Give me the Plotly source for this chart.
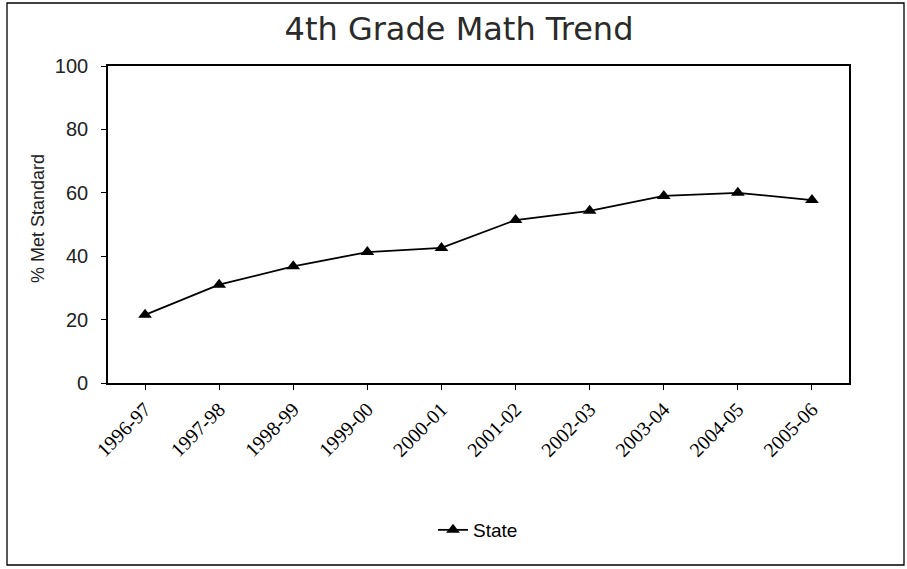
import plotly.graph_objects as go

# School years and the share of 4th graders meeting the math standard
years = ["1996-97", "1997-98", "1998-99", "1999-00", "2000-01",
         "2001-02", "2002-03", "2003-04", "2004-05", "2005-06"]
state_pct = [21.5, 31.0, 36.8, 41.3, 42.6, 51.4, 54.3, 59.0, 60.0, 57.7]
y_ticks = [0, 20, 40, 60, 80, 100]

W, H = 907, 569
L, R, T, B = 108, 58, 66, 186
pw, ph = W - L - R, H - T - B


def px(x):
    return (x - L) / pw


def py(y):
    return (H - B - y) / ph


fig = go.Figure()
fig.add_trace(go.Scatter(
    x=years, y=state_pct, name="State", mode="lines+markers",
    line=dict(color="black", width=1.8),
    marker=dict(symbol="triangle-up", size=12, color="black"),
))

fig.update_layout(
    width=W, height=H,
    margin=dict(l=L, r=R, t=T, b=B),
    paper_bgcolor="white", plot_bgcolor="white",
    font=dict(family="Liberation Sans, Arial, sans-serif", color="black"),
    title=dict(text="4th Grade Math Trend", x=px(459), xref="paper",
               xanchor="center", y=1 - 29 / H, yanchor="middle",
               font=dict(family="DejaVu Sans", size=32, color="#2a2a2a")),
    showlegend=True,
    legend=dict(orientation="h", x=px(478), xanchor="center", y=py(530),
                yanchor="middle", font=dict(size=19), itemwidth=30,
                bgcolor="rgba(0,0,0,0)"),
    xaxis=dict(type="category", range=[-0.5, 9.5], showline=True, mirror=True,
               linecolor="black", linewidth=1.6, ticks="outside", ticklen=5,
               tickcolor="black", tickangle=-45, showgrid=False,
               tickfont=dict(family="Liberation Serif, Times New Roman, serif",
                             size=20)),
    yaxis=dict(range=[0, 100], tickvals=y_ticks, showline=True, mirror=True,
               linecolor="black", linewidth=1.6, ticks="outside", ticklen=5,
               tickcolor="black", showgrid=False, zeroline=False,
               ticklabelstandoff=9, tickfont=dict(size=20, color="#222")),
    annotations=[dict(text="% Met Standard", textangle=-90, xref="paper",
                      yref="paper", x=px(38), y=py(219), xanchor="center",
                      yanchor="middle", showarrow=False,
                      font=dict(size=18, color="#222"))],
    shapes=[dict(type="rect", xref="paper", yref="paper",
                 x0=px(7), x1=px(904), y0=py(565), y1=py(3),
                 line=dict(color="black", width=1.3))],
)

fig.write_html("out.html")
